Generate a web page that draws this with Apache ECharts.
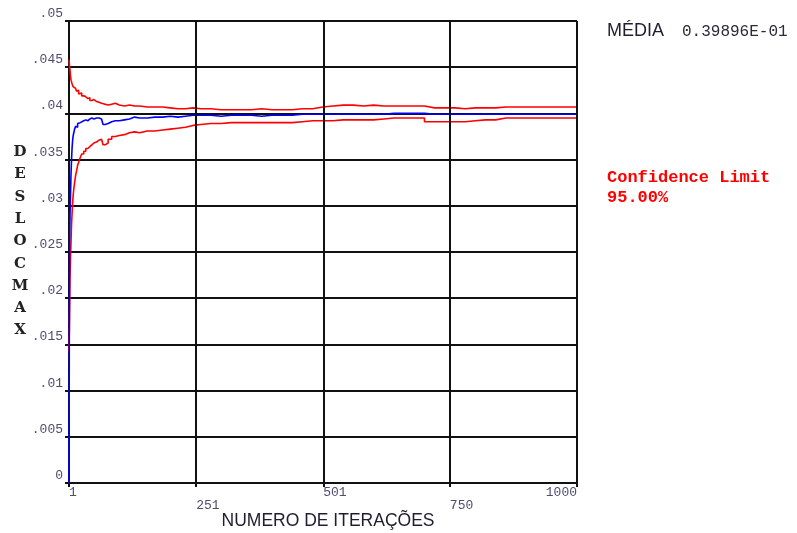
<!DOCTYPE html>
<html><head><meta charset="utf-8">
<script src="https://cdn.jsdelivr.net/npm/echarts@6/dist/echarts.min.js"></script>
<style>html,body{margin:0;padding:0;background:#fff}#c{width:797px;height:533px}</style>
</head><body><div id="c"></div>
<script>
const iterations = [1,2,3,4,5,6,7,8,9,10,12,14,16,18,20,23,26,30,34,38,42,46,50,55,60,65,68,72,78,85,92,100,110,120,130,140,155,170,185,200,215,230,245,260,280,300,320,340,360,380,400,420,440,460,480,500,520,540,560,580,600,620,640,660,680,700,720,740,760,780,800,820,840,860,880,900,920,940,960,980,1000];
const upperLimit = [0.0458,0.0452,0.0447,0.0440,0.0436,0.0438,0.0432,0.0434,0.0429,0.0431,
  0.0427,0.0428,0.0424,0.0425,0.0421,
  0.0422,0.0419,0.0418,0.0416,0.0417,0.0414,0.0415,0.0413,0.0412,0.0411,0.0412,0.0410,0.0409,0.0410,0.0411,0.0409,0.0408,
  0.0409,0.0408,0.0408,0.0407,0.0407,0.0407,0.0406,0.0405,0.0405,0.0406,0.0405,0.0405,0.0404,0.0404,
  0.0404,0.0404,0.0405,0.0404,0.0404,0.0404,0.0405,0.0405,0.0407,0.0408,0.0409,0.0409,0.0408,0.0409,0.0408,0.0408,0.0408,0.0408,0.0408,0.0406,0.0406,0.0406,0.0405,0.0406,0.0406,0.0406,0.0407,
  0.0407,0.0407,0.0407,0.0407,0.0407,0.0407,0.0407,0.0407];
const meanValue = [0.0000,0.0252,0.0290,0.0312,0.0335,0.0350,0.0362,0.0370,0.0375,0.0378,
  0.0383,0.0386,0.0385,0.0389,0.0390,
  0.0391,0.0392,0.0393,0.0392,0.0394,0.0395,0.0394,0.0395,0.0395,0.0394,0.0393,0.0388,0.0389,0.0391,0.0392,0.0392,0.0393,
  0.0394,0.0396,0.0395,0.0395,0.0396,0.0396,0.0397,0.0396,0.0397,0.0398,0.0398,0.0398,0.0397,0.0398,
  0.0398,0.0398,0.0397,0.0398,0.0398,0.0398,0.0399,0.0399,0.0399,0.0399,0.0399,0.0399,0.0399,0.0399,0.0399,0.0400,0.0400,0.0400,0.0400,0.0399,0.0399,0.0399,0.0399,0.0399,0.0399,0.0399,0.0399,
  0.0399,0.0399,0.0399,0.0399,0.0399,0.0399,0.0399,0.0399];
const lowerLimit = [0.0141,0.0180,0.0222,0.0245,0.0262,0.0280,0.0291,0.0302,0.0310,0.0316,
  0.0325,0.0333,0.0338,0.0344,0.0347,
  0.0352,0.0356,0.0359,0.0362,0.0364,0.0366,0.0368,0.0369,0.0371,0.0372,0.0374,0.0366,0.0368,0.0372,0.0375,0.0376,0.0377,
  0.0379,0.0380,0.0379,0.0381,0.0381,0.0382,0.0383,0.0384,0.0385,0.0387,0.0388,0.0389,0.0389,0.0390,
  0.0390,0.0390,0.0390,0.0390,0.0390,0.0390,0.0391,0.0392,0.0392,0.0392,0.0393,0.0393,0.0393,0.0393,0.0394,0.0395,0.0395,0.0395,0.0395,0.0391,0.0391,0.0391,0.0391,0.0392,0.0393,0.0393,0.0395,
  0.0395,0.0395,0.0395,0.0395,0.0395,0.0395,0.0395,0.0395];
const xTicks = [1,251,501,750,1000];
const yTitleLetters = ['D','E','S','L','O','C','M','A','X'];
const xTitle = 'NUMERO DE ITERAÇÕES';
const mediaLabel = 'MÉDIA';
const mediaValue = '0.39896E-01';
const confLabel = ['Confidence Limit', '95.00%'];

const mono = "'Liberation Mono','DejaVu Sans Mono',monospace";
const sans = "'Liberation Sans','Noto Sans',sans-serif";
const lblColor = '#4d4d70';
const pair = arr => iterations.map((x, i) => [x, arr[i]]);

const chart = echarts.init(document.getElementById('c'));
chart.setOption({
  animation: false,
  backgroundColor: '#fff',
  grid: { left: 69, top: 21, width: 508, height: 462, containLabel: false },
  xAxis: {
    type: 'value', min: 1, max: 1000,
    axisLine: { show: true, onZero: false, lineStyle: { color: '#111', width: 2 } },
    axisTick: { show: true, customValues: xTicks, length: 4, lineStyle: { color: '#111', width: 2 } },
    axisLabel: {
      customValues: xTicks,
      formatter: v => (xTicks.indexOf(v) % 2 === 1 ? '\n' : '') + v,
      align: 'left', alignMaxLabel: 'right', margin: 3,
      fontFamily: mono, fontSize: 13, lineHeight: 13, color: lblColor
    },
    splitLine: { show: false }
  },
  yAxis: {
    type: 'value', min: 0, max: 0.05, interval: 0.005,
    axisLine: { show: true, lineStyle: { color: '#111', width: 2 } },
    axisTick: { show: true, length: 4, lineStyle: { color: '#111', width: 2 } },
    axisLabel: {
      margin: 6, verticalAlign: 'bottom', padding: [0, 0, 1, 0],
      fontFamily: mono, fontSize: 13, color: lblColor,
      formatter: v => v === 0 ? '0' : String(Number(v.toFixed(3))).replace(/^0/, '')
    },
    splitLine: { show: true, lineStyle: { color: '#111', width: 2 } }
  },
  series: [
    { type: 'line', data: [], z: 1, silent: true,
      markLine: { silent: true, symbol: 'none', label: { show: false },
        lineStyle: { color: '#111', width: 2, type: 'solid' },
        data: xTicks.slice(1).map(v => ({ xAxis: v })) } },
    { name: 'upper', type: 'line', data: pair(upperLimit), step: 'end', showSymbol: false, clip: false, z: 3,
      lineStyle: { color: '#ff0000', width: 1.6 } },
    { name: 'lower', type: 'line', data: pair(lowerLimit), step: 'end', showSymbol: false, clip: false, z: 3,
      lineStyle: { color: '#ff0000', width: 1.6 } },
    { name: 'mean', type: 'line', data: pair(meanValue), step: 'end', showSymbol: false, clip: false, z: 4,
      lineStyle: { color: '#0000ff', width: 1.6 } }
  ],
  graphic: [
    { type: 'text', style: { x: 20, y: 141, text: yTitleLetters.join('\n'), textAlign: 'center', textVerticalAlign: 'top',
        fontFamily: "'DejaVu Serif',serif", fontWeight: 'bold', fontSize: 15, lineHeight: 22.3, fill: '#222' } },
    { type: 'text', style: { x: 328, y: 521, text: xTitle, textAlign: 'center', textVerticalAlign: 'middle',
        fontFamily: sans, fontSize: 17.5, fill: '#1e1e2e' } },
    { type: 'text', style: { x: 607, y: 31, text: mediaLabel, textAlign: 'left', textVerticalAlign: 'middle',
        fontFamily: sans, fontSize: 18, fill: '#1e1e2e' } },
    { type: 'text', style: { x: 682, y: 32, text: mediaValue, textAlign: 'left', textVerticalAlign: 'middle',
        fontFamily: mono, fontSize: 16, fill: '#2a2a3a' } },
    { type: 'text', style: { x: 607, y: 178, text: confLabel[0], textAlign: 'left', textVerticalAlign: 'middle',
        fontFamily: mono, fontWeight: 'bold', fontSize: 17, fill: '#ff0000' } },
    { type: 'text', style: { x: 607, y: 198, text: confLabel[1], textAlign: 'left', textVerticalAlign: 'middle',
        fontFamily: mono, fontWeight: 'bold', fontSize: 17, fill: '#ff0000' } }
  ]
});
</script>
</body></html>
